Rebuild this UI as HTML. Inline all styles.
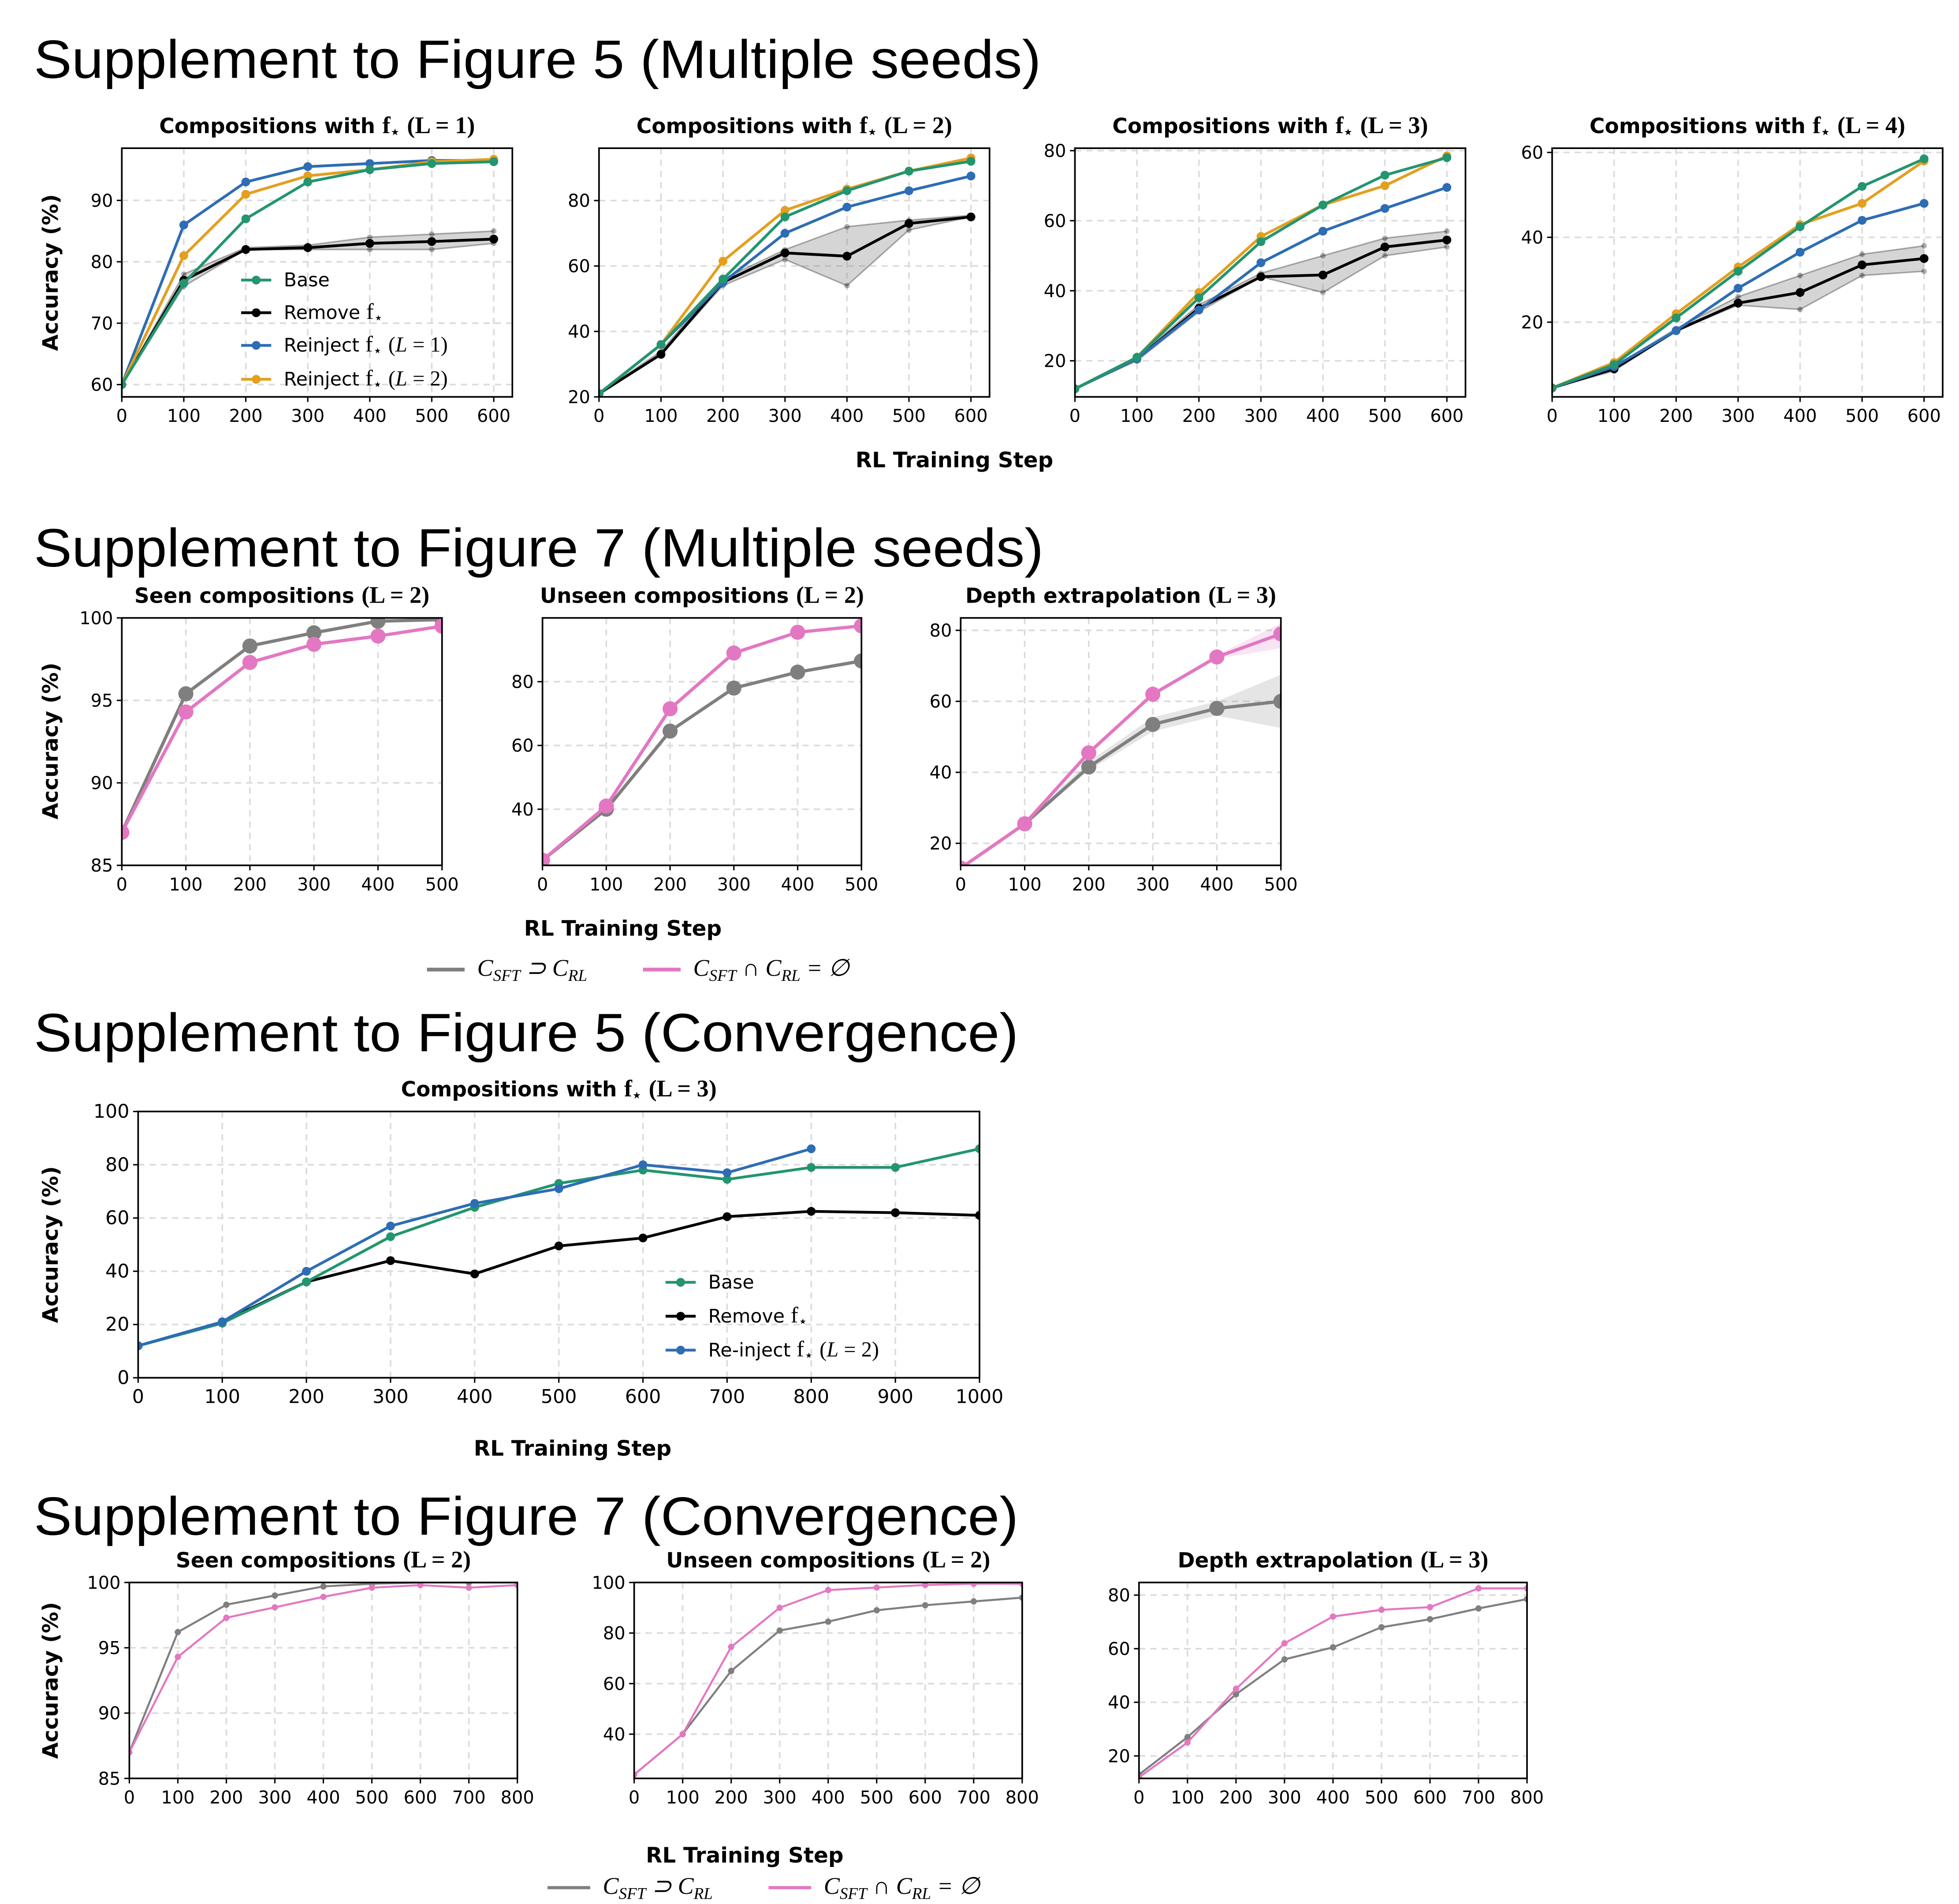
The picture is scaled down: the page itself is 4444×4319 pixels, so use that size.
<!DOCTYPE html>
<html><head><meta charset="utf-8"><style>
html,body{margin:0;padding:0;background:#fff;}
svg{display:block;}
text{font-family:"DejaVu Sans","Liberation Sans",sans-serif;}
text.sec{font-family:"Liberation Sans",Arial,sans-serif;}
</style></head><body>
<svg id="fig" xmlns="http://www.w3.org/2000/svg" width="4444" height="4319" viewBox="0 0 1560 1516" preserveAspectRatio="none">
<rect width="1560" height="1516" fill="#fff"/>
<g font-size="43" fill="#000">
<text class="sec" x="27" y="62" textLength="802" lengthAdjust="spacingAndGlyphs">Supplement to Figure 5 (Multiple seeds)</text>
<text class="sec" x="27" y="451" textLength="804" lengthAdjust="spacingAndGlyphs">Supplement to Figure 7 (Multiple seeds)</text>
<text class="sec" x="27" y="837" textLength="784" lengthAdjust="spacingAndGlyphs">Supplement to Figure 5 (Convergence)</text>
<text class="sec" x="27" y="1222" textLength="784" lengthAdjust="spacingAndGlyphs">Supplement to Figure 7 (Convergence)</text>
</g>
<g font-weight="bold" font-size="17">
<text x="760" y="372" text-anchor="middle">RL Training Step</text>
<text x="496" y="745" text-anchor="middle">RL Training Step</text>
<text x="456" y="1159" text-anchor="middle">RL Training Step</text>
<text x="593" y="1483" text-anchor="middle">RL Training Step</text>
<text transform="translate(46,217) rotate(-90)" text-anchor="middle">Accuracy (%)</text>
<text transform="translate(46,590) rotate(-90)" text-anchor="middle">Accuracy (%)</text>
<text transform="translate(46,991) rotate(-90)" text-anchor="middle">Accuracy (%)</text>
<text transform="translate(46,1338) rotate(-90)" text-anchor="middle">Accuracy (%)</text>
</g>
<g id="panels"></g>
<g id="legends"></g>
</svg>
<script>
const NS='http://www.w3.org/2000/svg';
const GREEN='#23956f',BLACK='#000',BLUE='#2d6db4',ORANGE='#e39f20',PINK='#e377c2',GRAY='#7f7f7f';
// ---- data ----
const steps600=[0,100,200,300,400,500,600];
const steps500=[0,100,200,300,400,500];
const steps1000=[0,100,200,300,400,500,600,700,800,900,1000];
const steps800=[0,100,200,300,400,500,600,700,800];
// Row 1 (L=1..4)
const l1Base=[60,76.5,87,93,95,96,96.3];
const l1Remove=[60,77,82,82.3,83,83.3,83.7];
const l1RemoveLo=[60,76,82,82,82,82,83];
const l1RemoveHi=[60,78,82.3,82.7,84,84.5,85];
const l1Re1=[60,86,93,95.5,96,96.5,96.5];
const l1Re2=[60,81,91,94,95,96.3,96.7];
const l2Base=[21,36,56,75,83,89,92];
const l2Remove=[21,33,55,64,63,73,75];
const l2RemoveLo=[21,33,54,62,54,71,75];
const l2RemoveHi=[21,34,56,65,72,74,75.5];
const l2Re1=[21,36,55,70,78,83,87.5];
const l2Re2=[21,36,61.5,77,83.5,89,93];
const l3Base=[12,21,38,54,64.5,73,78];
const l3Remove=[12,20.5,35,44,44.5,52.5,54.5];
const l3RemoveLo=[12,20,34,44,39.5,50,52.5];
const l3RemoveHi=[12,21,36,45,50,55,57];
const l3Re1=[12,20.5,34.5,48,57,63.5,69.5];
const l3Re2=[12,21,39.5,55.5,64.5,70,78.5];
const l4Base=[4.5,10,21,32,42.5,52,58.5];
const l4Remove=[4.5,9,18,24.5,27,33.5,35];
const l4RemoveLo=[4.5,8.5,18,24,23,31,32];
const l4RemoveHi=[4.5,9.5,18.5,26,31,36,38];
const l4Re1=[4.5,9.5,18,28,36.5,44,48];
const l4Re2=[4.5,10.5,22,33,43,48,58];
// Row 2
const seenGray=[87,95.4,98.3,99.1,99.8,99.9];
const seenPink=[87,94.3,97.3,98.4,98.9,99.5];
const unseenGray=[24,40,64.5,78,83,86.5];
const unseenPink=[24,41,71.5,89,95.5,97.5];
const depthGray=[13,25.5,41.5,53.5,58,60];
const depthGrayLo=[13,25,40.5,51.5,56,52.5];
const depthGrayHi=[13,26,43,55.5,60,67.5];
const depthPink=[13,25.5,45.5,62,72.5,79];
const depthPinkLo=[13,25.5,45,61.5,72,75];
const depthPinkHi=[13,25.5,46,62.5,73,82];
// Row 3
const convBase=[12,20.5,36,53,64,73,78,74.5,79,79,86];
const convRemove=[12,21,36,44,39,49.5,52.5,60.5,62.5,62,61];
const convReinject=[12,21,40,57,65.5,71,80,77,86];
// Row 4
const cSeenGray=[87,96.2,98.3,99,99.7,99.9,100,100,100];
const cSeenPink=[87,94.3,97.3,98.1,98.9,99.6,99.8,99.6,99.8];
const cUnseenGray=[24,40,65,81,84.5,89,91,92.5,94];
const cUnseenPink=[24,40,74.5,90,97,98,99,99.5,99.5];
const cDepthGray=[13,27,43,56,60.5,68,71,75,78.5];
const cDepthPink=[12,25,45,62,72,74.5,75.5,82.5,82.5];
// ticks
const ticks600=[0,100,200,300,400,500,600];
const ticks500=[0,100,200,300,400,500];
const ticks1000=[0,100,200,300,400,500,600,700,800,900,1000];
const ticks800=[0,100,200,300,400,500,600,700,800];

function el(tag,attrs,parent){const e=document.createElementNS(NS,tag);for(const k in attrs)e.setAttribute(k,attrs[k]);if(parent)parent.appendChild(e);return e;}
let clipN=0;
function panel(o){
  const root=document.getElementById('panels');
  const g=el('g',{},root);
  
  
  const sx=v=>o.x0+(v-o.xmin)/(o.xmax-o.xmin)*(o.x1-o.x0);
  const sy=v=>o.y1-(v-o.ymin)/(o.ymax-o.ymin)*(o.y1-o.y0);
  const fs=o.fs||14;
  o.xticks.forEach(t=>{if(t>o.xmin&&t<o.xmax){const l=el('line',{x1:sx(t),x2:sx(t),y1:o.y0,y2:o.y1,stroke:'#dcdcdc','stroke-width':1.3,'stroke-dasharray':'5,4'},g);}});
  o.yticks.forEach(t=>{if(t>o.ymin&&t<o.ymax){const l=el('line',{x1:o.x0,x2:o.x1,y1:sy(t),y2:sy(t),stroke:'#dcdcdc','stroke-width':1.3,'stroke-dasharray':'5,4'},g);}});
  const cid='clip'+(clipN++);
  const cp=el('clipPath',{id:cid},g);el('rect',{x:o.x0,y:o.y0,width:o.x1-o.x0,height:o.y1-o.y0},cp);
  const dg=el('g',{'clip-path':'url(#'+cid+')'},g);
  o.series.forEach(s=>{
    if(s.lo){
      let d='';s.xs.forEach((x,i)=>{d+=(i?'L':'M')+sx(x)+','+sy(s.hi[i]);});
      for(let i=s.xs.length-1;i>=0;i--)d+='L'+sx(s.xs[i])+','+sy(s.lo[i]);
      const b=el('path',{d:d+'Z',fill:s.band||s.color,'fill-opacity':s.bandOp||0.2,stroke:'none'},dg);
      
      if(s.seeds){[s.lo,s.hi].forEach(arr=>{const pts=s.xs.map((x,i)=>sx(x)+','+sy(arr[i])).join(' ');el('polyline',{points:pts,fill:'none',stroke:s.color,'stroke-opacity':0.3,'stroke-width':1.2},dg);arr.forEach((v,i)=>el('circle',{cx:sx(s.xs[i]),cy:sy(v),r:2.2,fill:s.color,'fill-opacity':0.3},dg));});}
    }
  });
  o.series.forEach(s=>{
    const pts=s.ys.map((v,i)=>sx(s.xs[i])+','+sy(v)).join(' ');
    const pl=el('polyline',{points:pts,fill:'none',stroke:s.color,'stroke-width':s.w||2.2,'stroke-linejoin':'round'},dg);
    
    s.ys.forEach((v,i)=>{const c=el('circle',{cx:sx(s.xs[i]),cy:sy(v),r:s.r||3.5,fill:s.color},dg);
      });
  });
  el('rect',{x:o.x0,y:o.y0,width:o.x1-o.x0,height:o.y1-o.y0,fill:'none',stroke:'#000','stroke-width':1.3},g);
  o.xticks.forEach(t=>{el('line',{x1:sx(t),x2:sx(t),y1:o.y1,y2:o.y1+4,stroke:'#000','stroke-width':1.1},g);
    const tx=el('text',{x:sx(t),y:o.y1+20,'text-anchor':'middle','font-size':fs},g);tx.textContent=t;
    });
  o.yticks.forEach(t=>{el('line',{x1:o.x0,x2:o.x0-4,y1:sy(t),y2:sy(t),stroke:'#000','stroke-width':1.1},g);
    const tx=el('text',{x:o.x0-7,y:sy(t)+5,'text-anchor':'end','font-size':fs},g);tx.textContent=t;
    });
  const tt=el('text',{x:(o.x0+o.x1)/2,y:o.y0-12,'text-anchor':'middle','font-size':16.5,'font-weight':'bold'},g);
  
  tt.innerHTML=o.title;
}
const ser=(name,xs,ys,color,extra)=>Object.assign({name,xs,ys,color},extra||{});
const S=(a)=>'<tspan font-family="Liberation Serif, serif" font-size="19">'+a+'</tspan>';
const fstar='<tspan font-family="Liberation Serif, serif" font-size="19">f</tspan><tspan font-family="Liberation Serif, serif" font-size="12" dy="3">⋆</tspan><tspan dy="-3"> </tspan>';
function row1(name,x0,ymin,ymax,yt,L,base,rem,lo,hi,r1,r2){
  panel({name,x0,x1:x0+311,y0:118,y1:316,xmin:0,xmax:630,ymin,ymax,xticks:ticks600,yticks:yt,
    title:'Compositions with '+fstar+S('(L = '+L+')'),
    series:[ser('remove',steps600,rem,BLACK,{lo,hi,band:'#888',bandOp:0.35,seeds:true}),
      ser('reinject-l1',steps600,r1,BLUE),ser('reinject-l2',steps600,r2,ORANGE),ser('base',steps600,base,GREEN)]});
}
row1('panel-l1',97,58,98.5,[60,70,80,90],1,l1Base,l1Remove,l1RemoveLo,l1RemoveHi,l1Re1,l1Re2);
row1('panel-l2',477,20,96,[20,40,60,80],2,l2Base,l2Remove,l2RemoveLo,l2RemoveHi,l2Re1,l2Re2);
row1('panel-l3',856,9.7,80.7,[20,40,60,80],3,l3Base,l3Remove,l3RemoveLo,l3RemoveHi,l3Re1,l3Re2);
row1('panel-l4',1236,2.4,61,[20,40,60],4,l4Base,l4Remove,l4RemoveLo,l4RemoveHi,l4Re1,l4Re2);

const big={r:6,w:2.6};
panel({name:'panel-seen-seeds',x0:97,x1:352,y0:492,y1:689,xmin:0,xmax:500,ymin:85,ymax:100,xticks:ticks500,yticks:[85,90,95,100],
  title:'Seen compositions '+S('(L = 2)'),
  series:[ser('seen-gray',steps500,seenGray,GRAY,big),ser('seen-pink',steps500,seenPink,PINK,big)]});
panel({name:'panel-unseen-seeds',x0:432,x1:686,y0:492,y1:689,xmin:0,xmax:500,ymin:22.4,ymax:100,xticks:ticks500,yticks:[40,60,80],
  title:'Unseen compositions '+S('(L = 2)'),
  series:[ser('unseen-gray',steps500,unseenGray,GRAY,big),ser('unseen-pink',steps500,unseenPink,PINK,big)]});
panel({name:'panel-depth-seeds',x0:765,x1:1020,y0:492,y1:689,xmin:0,xmax:500,ymin:13.8,ymax:83.5,xticks:ticks500,yticks:[20,40,60,80],
  title:'Depth extrapolation '+S('(L = 3)'),
  series:[ser('depth-gray',steps500,depthGray,GRAY,Object.assign({lo:depthGrayLo,hi:depthGrayHi,band:'#999',bandOp:0.25},big)),
    ser('depth-pink',steps500,depthPink,PINK,Object.assign({lo:depthPinkLo,hi:depthPinkHi,bandOp:0.2},big))]});

panel({name:'panel-convergence',x0:110,x1:780,y0:885,y1:1097,xmin:0,xmax:1000,ymin:0,ymax:100,xticks:ticks1000,yticks:[0,20,40,60,80,100],fs:15,
  title:'Compositions with '+fstar+S('(L = 3)'),
  series:[ser('conv-remove',steps1000,convRemove,BLACK),ser('conv-base',steps1000,convBase,GREEN),ser('conv-reinject',steps800,convReinject,BLUE)]});

const sm={r:2.5,w:1.6};
panel({name:'panel-seen-conv',x0:103,x1:412,y0:1260,y1:1416,xmin:0,xmax:800,ymin:85,ymax:100,xticks:ticks800,yticks:[85,90,95,100],
  title:'Seen compositions '+S('(L = 2)'),
  series:[ser('cseen-gray',steps800,cSeenGray,GRAY,sm),ser('cseen-pink',steps800,cSeenPink,PINK,sm)]});
panel({name:'panel-unseen-conv',x0:505,x1:814,y0:1260,y1:1416,xmin:0,xmax:800,ymin:22.5,ymax:100,xticks:ticks800,yticks:[40,60,80,100],
  title:'Unseen compositions '+S('(L = 2)'),
  series:[ser('cunseen-gray',steps800,cUnseenGray,GRAY,sm),ser('cunseen-pink',steps800,cUnseenPink,PINK,sm)]});
panel({name:'panel-depth-conv',x0:907,x1:1216,y0:1260,y1:1416,xmin:0,xmax:800,ymin:11.6,ymax:84.7,xticks:ticks800,yticks:[20,40,60,80],
  title:'Depth extrapolation '+S('(L = 3)'),
  series:[ser('cdepth-gray',steps800,cDepthGray,GRAY,sm),ser('cdepth-pink',steps800,cDepthPink,PINK,sm)]});

// legends
const LG=document.getElementById('legends');
function entry(x,y,color,html,r,w,len){
  const g=el('g',{},LG);
  
  
  el('line',{x1:x,x2:x+len,y1:y,y2:y,stroke:color,'stroke-width':w},g);
  if(r)el('circle',{cx:x+len/2,cy:y,r:r,fill:color},g);
  const t=el('text',{x:x+len+10,y:y+5,'font-size':15},g);t.innerHTML=html;
}
const it=(a)=>'<tspan font-family="Liberation Serif, serif" font-style="italic" font-size="19">'+a+'</tspan>';
const fs2='<tspan font-family="Liberation Serif, serif" font-size="18">f</tspan><tspan font-family="Liberation Serif, serif" font-size="12" dy="3">⋆</tspan><tspan dy="-3"> </tspan>';
const LL=(n)=>'<tspan font-family="Liberation Serif, serif" font-size="17">(<tspan font-style="italic">L</tspan> = '+n+')</tspan>';
entry(192,223,GREEN,'Base',3.5,2.2,24);
entry(192,249,BLACK,'Remove '+fs2,3.5,2.2,24);
entry(192,275,BLUE,'Reinject '+fs2+LL(1),3.5,2.2,24);
entry(192,302,ORANGE,'Reinject '+fs2+LL(2),3.5,2.2,24);
entry(530,1021,GREEN,'Base',3.5,2.2,24);
entry(530,1048,BLACK,'Remove '+fs2,3.5,2.2,24);
entry(530,1075,BLUE,'Re-inject '+fs2+LL(2),3.5,2.2,24);
const cL1=it('C<tspan font-size="13" dy="4">SFT</tspan><tspan dy="-4"> ⊃ C</tspan><tspan font-size="13" dy="4">RL</tspan>');
const cL2=it('C<tspan font-size="13" dy="4">SFT</tspan><tspan dy="-4"> ∩ C</tspan><tspan font-size="13" dy="4">RL</tspan><tspan dy="-4"> = ∅</tspan>');
entry(340,772,GRAY,cL1,0,3,30);
entry(512,772,PINK,cL2,0,3,30);
entry(436,1503,GRAY,cL1,0,2.5,34);
entry(612,1503,PINK,cL2,0,2.5,34);
</script>
</body></html>
